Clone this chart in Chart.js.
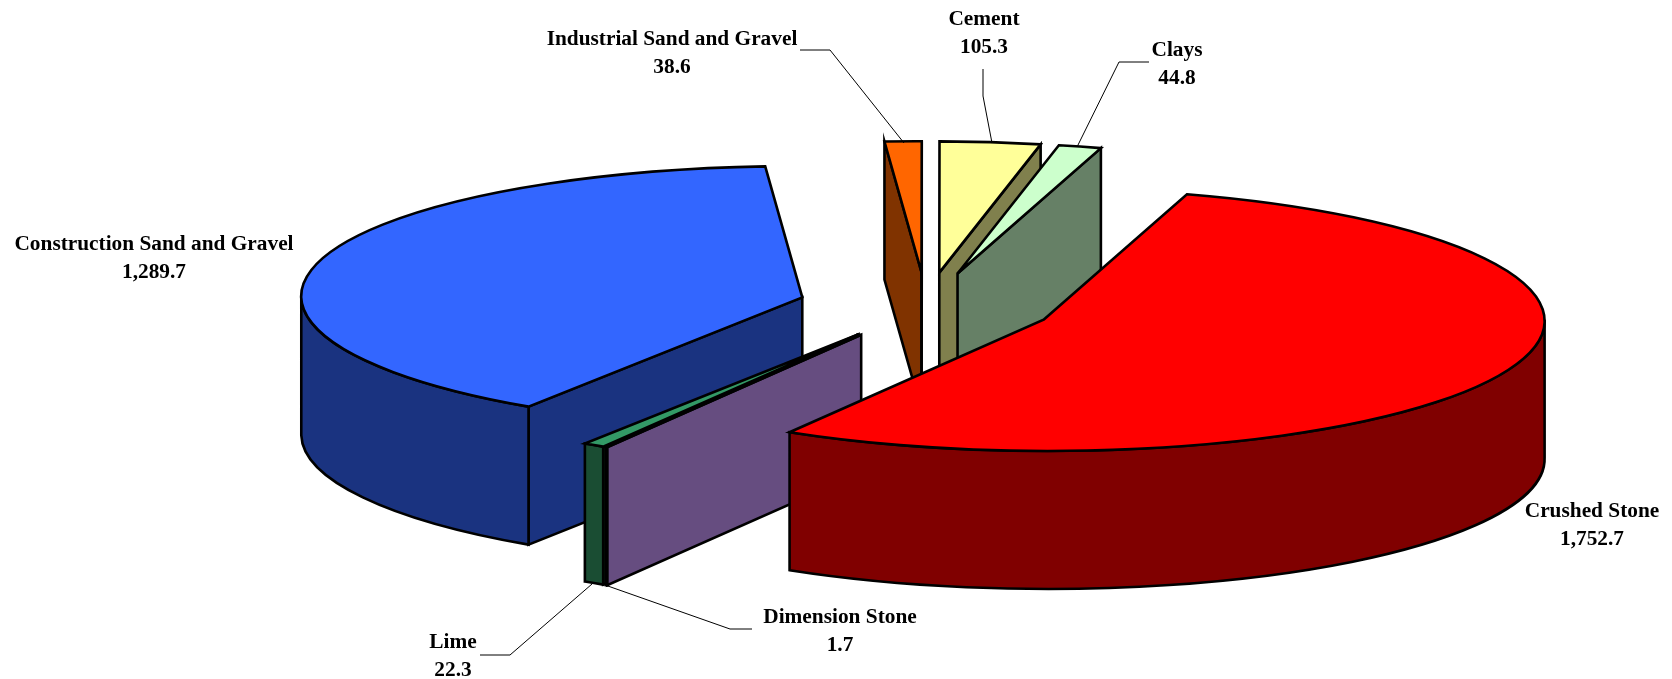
<!DOCTYPE html>
<html lang="en">
<head>
  <meta charset="UTF-8">
  <title>Crushed stone pie</title>
  <style>
    html, body { margin: 0; padding: 0; background: #fff; }
    #wrap { width: 1672px; height: 679px; }
  </style>
</head>
<body>
  <div id="wrap"><canvas id="pie" width="1672" height="679"></canvas></div>
  <script src="https://cdn.jsdelivr.net/npm/chart.js"></script>
  <script>
    // values, clockwise from the top cut
    const categories = ['Crushed Stone', 'Dimension Stone', 'Lime', 'Construction Sand and Gravel',
      'Industrial Sand and Gravel', 'Cement', 'Clays'];
    const values = [1752.7, 1.7, 22.3, 1289.7, 38.6, 105.3, 44.8];
    const faceColors = ['#FF0000', '#CC99FF', '#339966', '#3366FF', '#FF6600', '#FFFF99', '#CCFFCC'];
    const wallColors = ['#800000', '#664D80', '#1A4D33', '#1A3380', '#803300', '#80804D', '#668066'];
    // back to front
    const paintOrder = [4, 5, 6, 3, 2, 1, 0];

    // tilt of the pie, sideways lean of the plane, height of the wall, gap between slices
    const TILT = 0.262;
    const LEAN = 0.035 * TILT;
    const DEPTH = 138;
    const RADIUS = 501;
    const EXPLODE = 128;

    // label centre x, first line y, and the leader line if it has one
    const labelSpots = {
      'Crushed Stone': { x: 1592, y: 511 },
      'Dimension Stone': { x: 840, y: 617, leader: [[752, 629], [730, 629], [605, 585]] },
      'Lime': { x: 453, y: 642, leader: [[480, 655], [510, 655], [592, 584]] },
      'Construction Sand and Gravel': { x: 154, y: 244 },
      'Industrial Sand and Gravel': { x: 672, y: 39, leader: [[800, 50], [830, 50], [904, 143]] },
      'Cement': { x: 984, y: 19, leader: [[983, 69], [983, 96], [992, 143]] },
      'Clays': { x: 1177, y: 50, leader: [[1149, 62], [1119, 62], [1077, 147]] }
    };

    // plane coordinates around the pie centre -> page, dz pushes down to the bottom face
    function setPlane(ctx, el, dz) {
      ctx.setTransform(1, 0, LEAN, TILT, el.x, el.y + dz);
    }

    function sliceGeom(el) {
      const p = el.getProps(['startAngle', 'endAngle', 'outerRadius']);
      const mid = (p.startAngle + p.endAngle) / 2;
      return { ox: Math.cos(mid) * EXPLODE, oy: Math.sin(mid) * EXPLODE, r: p.outerRadius, a0: p.startAngle, a1: p.endAngle };
    }

    function fillStroke(ctx, fill) {
      // stroke with no transform so the line keeps its width
      ctx.resetTransform();
      ctx.fillStyle = fill;
      ctx.fill();
      ctx.stroke();
    }

    function paintWalls(ctx, el) {
      const fill = wallColors[el.$context.index];
      const { ox, oy, r, a0, a1 } = sliceGeom(el);
      const cut = a => {
        const qx = ox + Math.cos(a) * r;
        const qy = oy + Math.sin(a) * r;
        ctx.beginPath();
        setPlane(ctx, el, 0);
        ctx.moveTo(ox, oy);
        ctx.lineTo(qx, qy);
        setPlane(ctx, el, DEPTH);
        ctx.lineTo(qx, qy);
        ctx.lineTo(ox, oy);
        ctx.closePath();
        fillStroke(ctx, fill);
      };
      // radial cuts that face the viewer
      if (Math.cos(a0) < 0) cut(a0);
      if (Math.cos(a1) > 0) cut(a1);
      // curved outside, only the front half shows
      for (let k = 0; k < 2; k++) {
        const turn = k * Math.PI * 2;
        const from = Math.max(a0, turn);
        const to = Math.min(a1, turn + Math.PI);
        if (to <= from) continue;
        ctx.beginPath();
        setPlane(ctx, el, 0);
        ctx.arc(ox, oy, r, from, to);
        setPlane(ctx, el, DEPTH);
        ctx.arc(ox, oy, r, to, from, true);
        ctx.closePath();
        fillStroke(ctx, fill);
      }
    }

    function paintFace(ctx, el) {
      const { ox, oy, r, a0, a1 } = sliceGeom(el);
      // fill through the library's own arc, laid flat on the plane
      ctx.save();
      setPlane(ctx, el, 0);
      ctx.translate(ox - el.x, oy - el.y);
      el.draw(ctx);
      ctx.restore();
      // outline by hand
      ctx.beginPath();
      setPlane(ctx, el, 0);
      ctx.moveTo(ox, oy);
      ctx.arc(ox, oy, r, a0, a1);
      ctx.closePath();
      ctx.resetTransform();
      ctx.stroke();
    }

    const pie3d = {
      id: 'pie3d',
      beforeDatasetDraw(chart, args) {
        const ctx = chart.ctx;
        const arcs = args.meta.data;
        ctx.save();
        ctx.strokeStyle = '#000';
        ctx.lineWidth = 2.6;
        ctx.lineJoin = 'miter';
        paintOrder.forEach(i => {
          paintWalls(ctx, arcs[i]);
          paintFace(ctx, arcs[i]);
        });
        ctx.restore();
        return false;
      },
      afterDraw(chart) {
        const ctx = chart.ctx;
        ctx.save();
        ctx.fillStyle = '#000';
        ctx.font = 'bold 21.33px "Liberation Serif"';
        ctx.textAlign = 'center';
        ctx.textBaseline = 'middle';
        categories.forEach((name, i) => {
          const s = labelSpots[name];
          ctx.fillText(name, s.x, s.y);
          ctx.fillText(values[i].toLocaleString('en-US', { minimumFractionDigits: 1 }), s.x, s.y + 28);
          if (s.leader) {
            ctx.beginPath();
            s.leader.forEach((q, k) => k ? ctx.lineTo(q[0], q[1]) : ctx.moveTo(q[0], q[1]));
            ctx.lineWidth = 1;
            ctx.strokeStyle = '#000';
            ctx.stroke();
          }
        });
        ctx.restore();
      }
    };

    new Chart(document.getElementById('pie'), {
      type: 'pie',
      data: {
        labels: categories,
        datasets: [{
          data: values,
          backgroundColor: faceColors,
          borderWidth: 0
        }]
      },
      options: {
        responsive: false,
        animation: false,
        radius: RADIUS,
        rotation: 17.15,
        layout: { padding: { left: 180.5, bottom: 67 } },
        plugins: { legend: { display: false }, tooltip: { enabled: false } }
      },
      plugins: [pie3d]
    });
  </script>
</body>
</html>
